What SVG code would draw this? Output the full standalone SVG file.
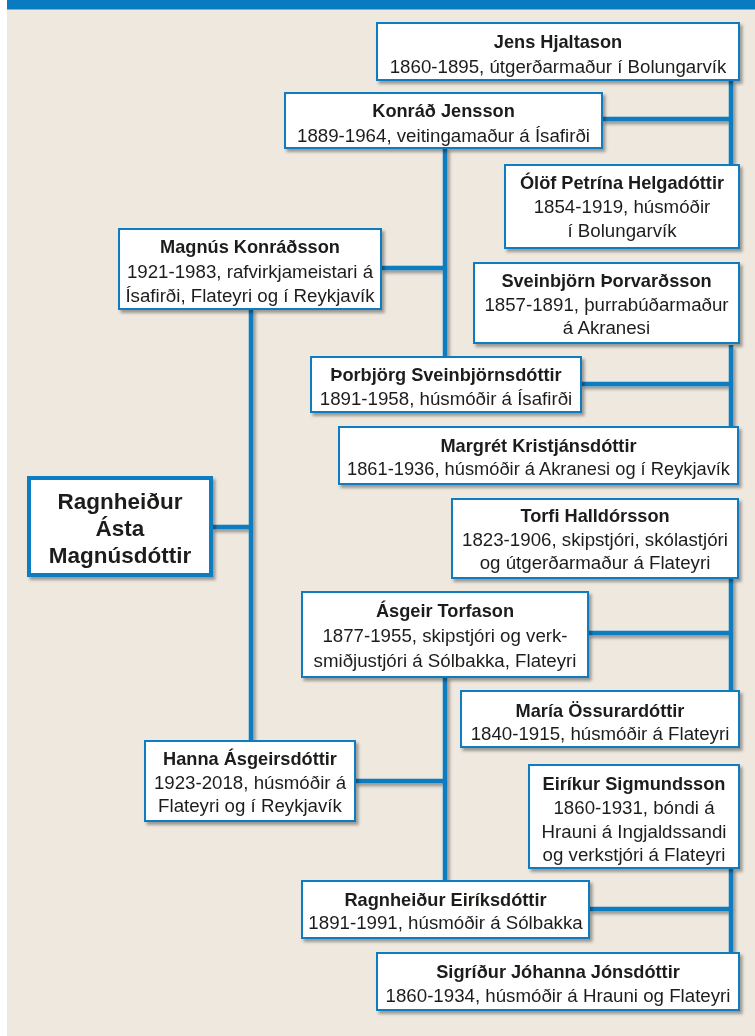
<svg xmlns="http://www.w3.org/2000/svg" width="755" height="1036" viewBox="0 0 755 1036">
<style>
.bg{fill:#EEE8DF}
.box{fill:#fff;stroke:#0A7BC0;stroke-width:2}
.main{fill:#fff;stroke:#0A7BC0;stroke-width:4}
.n{font-family:"Liberation Sans",Arial,sans-serif;font-weight:bold;font-size:18.2px;fill:#1d1d1b;text-anchor:middle}
.t{font-family:"Liberation Sans",Arial,sans-serif;font-size:18.7px;fill:#1d1d1b;text-anchor:middle}
.big{font-family:"Liberation Sans",Arial,sans-serif;font-weight:bold;font-size:22.5px;fill:#1d1d1b;text-anchor:middle}
.c{stroke:#0A7BC0;stroke-width:4.5;fill:none}
</style>
<defs>
<filter id="sh" x="-10%" y="-10%" width="125%" height="135%">
<feDropShadow dx="2.5" dy="3" stdDeviation="1.5" flood-color="#000" flood-opacity="0.35"/>
</filter>
</defs>
<rect x="0" y="0" width="755" height="1036" fill="#fff"/>
<rect class="bg" x="7" y="0" width="748" height="1036"/>
<rect x="7" y="0" width="748" height="9.5" fill="#0A7BC0"/>
<g id="connectors" filter="url(#sh)">
<path class="c" d="M731,80V167M731,345V427M731,578V691M731,868V953"/>
<path class="c" d="M602,119H731M581,384H731M588,633H731M589,909H731"/>
<path class="c" d="M445,148V357M445,677V881M381,268H445M355,781H445"/>
<path class="c" d="M251,309V741M212,527H251"/>
</g>
<g id="jens" filter="url(#sh)"><rect class="box" x="377" y="23" width="362" height="57"/>
<text class="n" x="558" y="48">Jens Hjaltason</text><text class="t" x="558" y="73">1860-1895, útgerðarmaður í Bolungarvík</text></g>
<g id="konrad" filter="url(#sh)"><rect class="box" x="285" y="93" width="317" height="55"/>
<text class="n" x="443.5" y="117">Konráð Jensson</text><text class="t" x="443.5" y="142">1889-1964, veitingamaður á Ísafirði</text></g>
<g id="olof" filter="url(#sh)"><rect class="box" x="505" y="165" width="234" height="83"/>
<text class="n" x="622" y="189">Ólöf Petrína Helgadóttir</text><text class="t" x="622" y="213">1854-1919, húsmóðir</text><text class="t" x="622" y="237">í Bolungarvík</text></g>
<g id="magnus" filter="url(#sh)"><rect class="box" x="119" y="229" width="262" height="80"/>
<text class="n" x="250" y="253">Magnús Konráðsson</text><text class="t" x="250" y="278">1921-1983, rafvirkjameistari á</text><text class="t" x="250" y="302">Ísafirði, Flateyri og í Reykjavík</text></g>
<g id="sveinbjorn" filter="url(#sh)"><rect class="box" x="474" y="263" width="265" height="80"/>
<text class="n" x="606.5" y="287">Sveinbjörn Þorvarðsson</text><text class="t" x="606.5" y="311">1857-1891, þurrabúðarmaður</text><text class="t" x="606.5" y="334">á Akranesi</text></g>
<g id="thorbjorg" filter="url(#sh)"><rect class="box" x="311" y="357" width="270" height="55"/>
<text class="n" x="446" y="381">Þorbjörg Sveinbjörnsdóttir</text><text class="t" x="446" y="405">1891-1958, húsmóðir á Ísafirði</text></g>
<g id="margret" filter="url(#sh)"><rect class="box" x="339" y="427" width="399" height="57"/>
<text class="n" x="538.5" y="452">Margrét Kristjánsdóttir</text><text class="t" x="538.5" y="475" textLength="383" lengthAdjust="spacingAndGlyphs">1861-1936, húsmóðir á Akranesi og í Reykjavík</text></g>
<g id="ragnheidur-asta" filter="url(#sh)"><rect class="main" x="29" y="478" width="182" height="97"/>
<text class="big" x="120" y="509">Ragnheiður</text><text class="big" x="120" y="536">Ásta</text><text class="big" x="120" y="563">Magnúsdóttir</text></g>
<g id="torfi" filter="url(#sh)"><rect class="box" x="452" y="499" width="286" height="79"/>
<text class="n" x="595" y="522">Torfi Halldórsson</text><text class="t" x="595" y="546">1823-1906, skipstjóri, skólastjóri</text><text class="t" x="595" y="569">og útgerðarmaður á Flateyri</text></g>
<g id="asgeir" filter="url(#sh)"><rect class="box" x="302" y="592" width="286" height="85"/>
<text class="n" x="445" y="617">Ásgeir Torfason</text><text class="t" x="445" y="642">1877-1955, skipstjóri og verk-</text><text class="t" x="445" y="667">smiðjustjóri á Sólbakka, Flateyri</text></g>
<g id="maria" filter="url(#sh)"><rect class="box" x="461" y="691" width="278" height="56"/>
<text class="n" x="600" y="717">María Össurardóttir</text><text class="t" x="600" y="740">1840-1915, húsmóðir á Flateyri</text></g>
<g id="hanna" filter="url(#sh)"><rect class="box" x="145" y="741" width="210" height="80"/>
<text class="n" x="250" y="765">Hanna Ásgeirsdóttir</text><text class="t" x="250" y="789">1923-2018, húsmóðir á</text><text class="t" x="250" y="812">Flateyri og í Reykjavík</text></g>
<g id="eirikur" filter="url(#sh)"><rect class="box" x="529" y="765" width="210" height="103"/>
<text class="n" x="634" y="790">Eiríkur Sigmundsson</text><text class="t" x="634" y="814">1860-1931, bóndi á</text><text class="t" x="634" y="838">Hrauni á Ingjaldssandi</text><text class="t" x="634" y="861">og verkstjóri á Flateyri</text></g>
<g id="ragnheidur-e" filter="url(#sh)"><rect class="box" x="302" y="881" width="287" height="57"/>
<text class="n" x="445.5" y="906">Ragnheiður Eiríksdóttir</text><text class="t" x="445.5" y="929">1891-1991, húsmóðir á Sólbakka</text></g>
<g id="sigridur" filter="url(#sh)"><rect class="box" x="377" y="953" width="362" height="57"/>
<text class="n" x="558" y="978">Sigríður Jóhanna Jónsdóttir</text><text class="t" x="558" y="1002">1860-1934, húsmóðir á Hrauni og Flateyri</text></g>
</svg>
